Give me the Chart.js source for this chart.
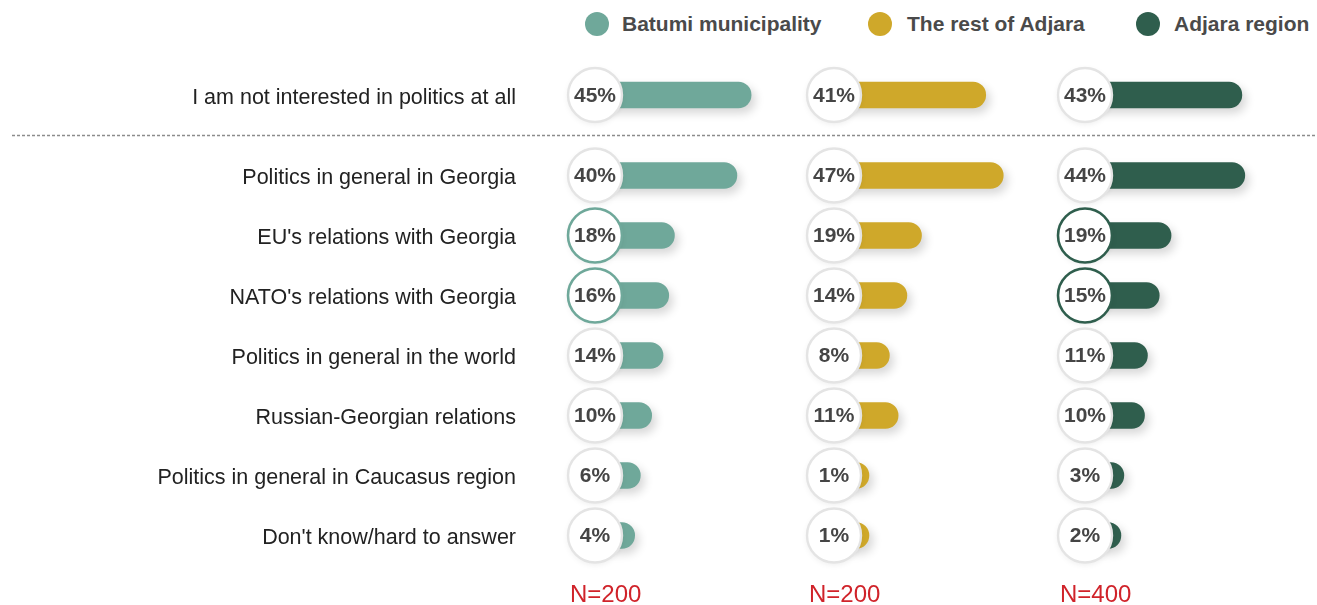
<!DOCTYPE html>
<html>
<head>
<meta charset="utf-8">
<script src="https://cdn.jsdelivr.net/npm/chart.js@4.4.1/dist/chart.umd.min.js"></script>
<style>
  html, body { margin: 0; padding: 0; background: #ffffff; }
  #wrap { position: relative; width: 1317px; height: 605px; overflow: hidden; background: #fff; }
  canvas { position: absolute; left: 0; }
  #topChart { top: 60px; }
  #mainChart { top: 140px; }
  .leg { position: absolute; top: 10px; height: 28px; line-height: 28px;
         font-family: 'Liberation Sans', Arial, sans-serif; font-weight: bold; font-size: 21px; color: #4a4a4a; white-space: nowrap; }
  .dot { position: absolute; top: 12px; width: 24px; height: 24px; border-radius: 50%; }
</style>
</head>
<body>
<div id="wrap">
  <div id="legend"></div>
  <canvas id="topChart" width="1317" height="80"></canvas>
  <canvas id="mainChart" width="1317" height="465"></canvas>
</div>
<script>
// ---------------- DATA ----------------
const categories = [
  "I am not interested in politics at all",
  "Politics in general in Georgia",
  "EU's relations with Georgia",
  "NATO's relations with Georgia",
  "Politics in general in the world",
  "Russian-Georgian relations",
  "Politics in general in Caucasus region",
  "Don't know/hard to answer"
];
const seriesNames = ["Batumi municipality", "The rest of Adjara", "Adjara region"];
const batumiValues = [45, 40, 18, 16, 14, 10, 6, 4];
const restValues   = [41, 47, 19, 14, 8, 11, 1, 1];
const adjaraValues = [43, 44, 19, 15, 11, 10, 3, 2];
const sampleLabels = ["N=200", "N=200", "N=400"];
const highlightedRows = ["EU's relations with Georgia", "NATO's relations with Georgia"];
const highlightedSeries = [true, false, true];

// ---------------- STYLE / LAYOUT ----------------
const colors = ["#6fa89a", "#cfa82a", "#2f5e4d"];
const FONT = "'Liberation Sans', Arial, sans-serif";
const AREA_LEFT = 540, AREA_RIGHT = 1317;
const LABEL_GAP = 24;
const panelCenter = [595, 834, 1085];      // circle centres (px)
const panelZero   = [623.3, 866, 1115];     // pixel where value 0 sits
const pxPerPct    = [2.84, 2.92, 2.95];
const CIRCLE_R = 27;

const allValues = [batumiValues, restValues, adjaraValues];

// legend (HTML text)
const legendX = [[585, 622], [868, 907], [1136, 1174]];
const legendEl = document.getElementById('legend');
seriesNames.forEach((n, i) => {
  const d = document.createElement('div');
  d.className = 'dot'; d.style.left = legendX[i][0] + 'px'; d.style.background = colors[i];
  legendEl.appendChild(d);
  const s = document.createElement('div');
  s.className = 'leg'; s.style.left = legendX[i][1] + 'px'; s.textContent = n;
  legendEl.appendChild(s);
});

function axisFor(p) {
  const min = -(panelZero[p] - AREA_LEFT) / pxPerPct[p];
  const max = min + (AREA_RIGHT - AREA_LEFT) / pxPerPct[p];
  return { type: 'linear', display: false, min: min, max: max };
}
function baseFor(p) {
  return -(panelZero[p] - panelCenter[p]) / pxPerPct[p];
}

const shadowPlugin = {
  id: 'barShadow',
  beforeDatasetDraw(chart) {
    const ctx = chart.ctx;
    ctx.save();
    ctx.shadowColor = 'rgba(0,0,0,0.16)';
    ctx.shadowBlur = 10;
    ctx.shadowOffsetX = 4;
    ctx.shadowOffsetY = 5;
  },
  afterDatasetDraw(chart) { chart.ctx.restore(); }
};

const circlePlugin = {
  id: 'circles',
  afterDatasetsDraw(chart) {
    const ctx = chart.ctx;
    const ys = chart.scales.y;
    const labels = chart.data.labels;
    chart.data.datasets.forEach((ds, di) => {
      const xs = chart.scales[ds.xAxisID];
      const cx = xs.getPixelForValue(ds.base);
      ds.data.forEach((v, i) => {
        const cy = ys.getPixelForValue(i);
        const hl = highlightedSeries[di] && highlightedRows.includes(labels[i]);
        ctx.save();
        ctx.beginPath();
        ctx.arc(cx, cy, CIRCLE_R, 0, Math.PI * 2);
        ctx.shadowColor = 'rgba(0,0,0,0.08)';
        ctx.shadowBlur = 6;
        ctx.shadowOffsetY = 2;
        ctx.fillStyle = '#ffffff';
        ctx.fill();
        ctx.shadowColor = 'transparent';
        ctx.lineWidth = hl ? 2.6 : 2.4;
        ctx.strokeStyle = hl ? colors[di] : '#e4e4e4';
        ctx.stroke();
        ctx.fillStyle = '#454545';
        ctx.font = 'bold 21px ' + FONT;
        ctx.textAlign = 'center';
        ctx.textBaseline = 'middle';
        ctx.fillText(v + '%', cx, cy + 1);
        ctx.restore();
      });
    });
  }
};

const separatorPlugin = {
  id: 'separator',
  afterDraw(chart) {
    const ctx = chart.ctx;
    ctx.save();
    ctx.strokeStyle = '#8c8c8c';
    ctx.lineWidth = 1.6;
    ctx.setLineDash([3, 2]);
    ctx.beginPath();
    ctx.moveTo(12, 75.5);
    ctx.lineTo(1317, 75.5);
    ctx.stroke();
    ctx.restore();
  }
};

const sampleLabelPlugin = {
  id: 'sampleLabels',
  afterDraw(chart) {
    const ctx = chart.ctx;
    ctx.save();
    ctx.fillStyle = '#d0232a';
    ctx.font = '24px ' + FONT;
    ctx.textAlign = 'left';
    ctx.textBaseline = 'middle';
    chart.data.datasets.forEach((ds, di) => {
      const xs = chart.scales[ds.xAxisID];
      const cx = xs.getPixelForValue(ds.base);
      ctx.fillText(sampleLabels[di], cx - CIRCLE_R + 2, chart.chartArea.bottom + 30);
    });
    ctx.restore();
  }
};

function buildChart(canvasId, rowLabels, rowSlice, padding, extraPlugins) {
  const datasets = seriesNames.map((name, p) => ({
    label: name,
    data: allValues[p].slice(rowSlice[0], rowSlice[1]),
    xAxisID: 'x' + p,
    base: baseFor(p),
    grouped: false,
    backgroundColor: colors[p],
    borderWidth: 0,
    borderSkipped: false,
    borderRadius: { topLeft: 0, bottomLeft: 0, topRight: 13, bottomRight: 13 },
    barThickness: 26
  }));
  return new Chart(document.getElementById(canvasId), {
    type: 'bar',
    data: { labels: rowLabels, datasets: datasets },
    options: {
      indexAxis: 'y',
      responsive: false,
      animation: false,
      layout: { padding: padding },
      plugins: { legend: { display: false }, tooltip: { enabled: false } },
      scales: {
        y: {
          type: 'category',
          grid: { display: false, drawTicks: false },
          border: { display: false },
          ticks: { color: '#222222', padding: LABEL_GAP, labelOffset: 3, autoSkip: false, font: { family: FONT, size: 21.5 } },
          afterFit(scale) {
            scale.width = AREA_LEFT;
            scale.paddingTop = 0;
            scale.paddingBottom = 0;
          }
        },
        x0: axisFor(0),
        x1: axisFor(1),
        x2: axisFor(2)
      }
    },
    plugins: [shadowPlugin, circlePlugin].concat(extraPlugins)
  });
}

buildChart('topChart', categories.slice(0, 1), [0, 1],
  { top: 5, bottom: 15, left: 0, right: 0 }, [separatorPlugin]);
buildChart('mainChart', categories.slice(1), [1, 8],
  { top: 5.5, bottom: 39.5, left: 0, right: 0 }, [sampleLabelPlugin]);
</script>
</body>
</html>
